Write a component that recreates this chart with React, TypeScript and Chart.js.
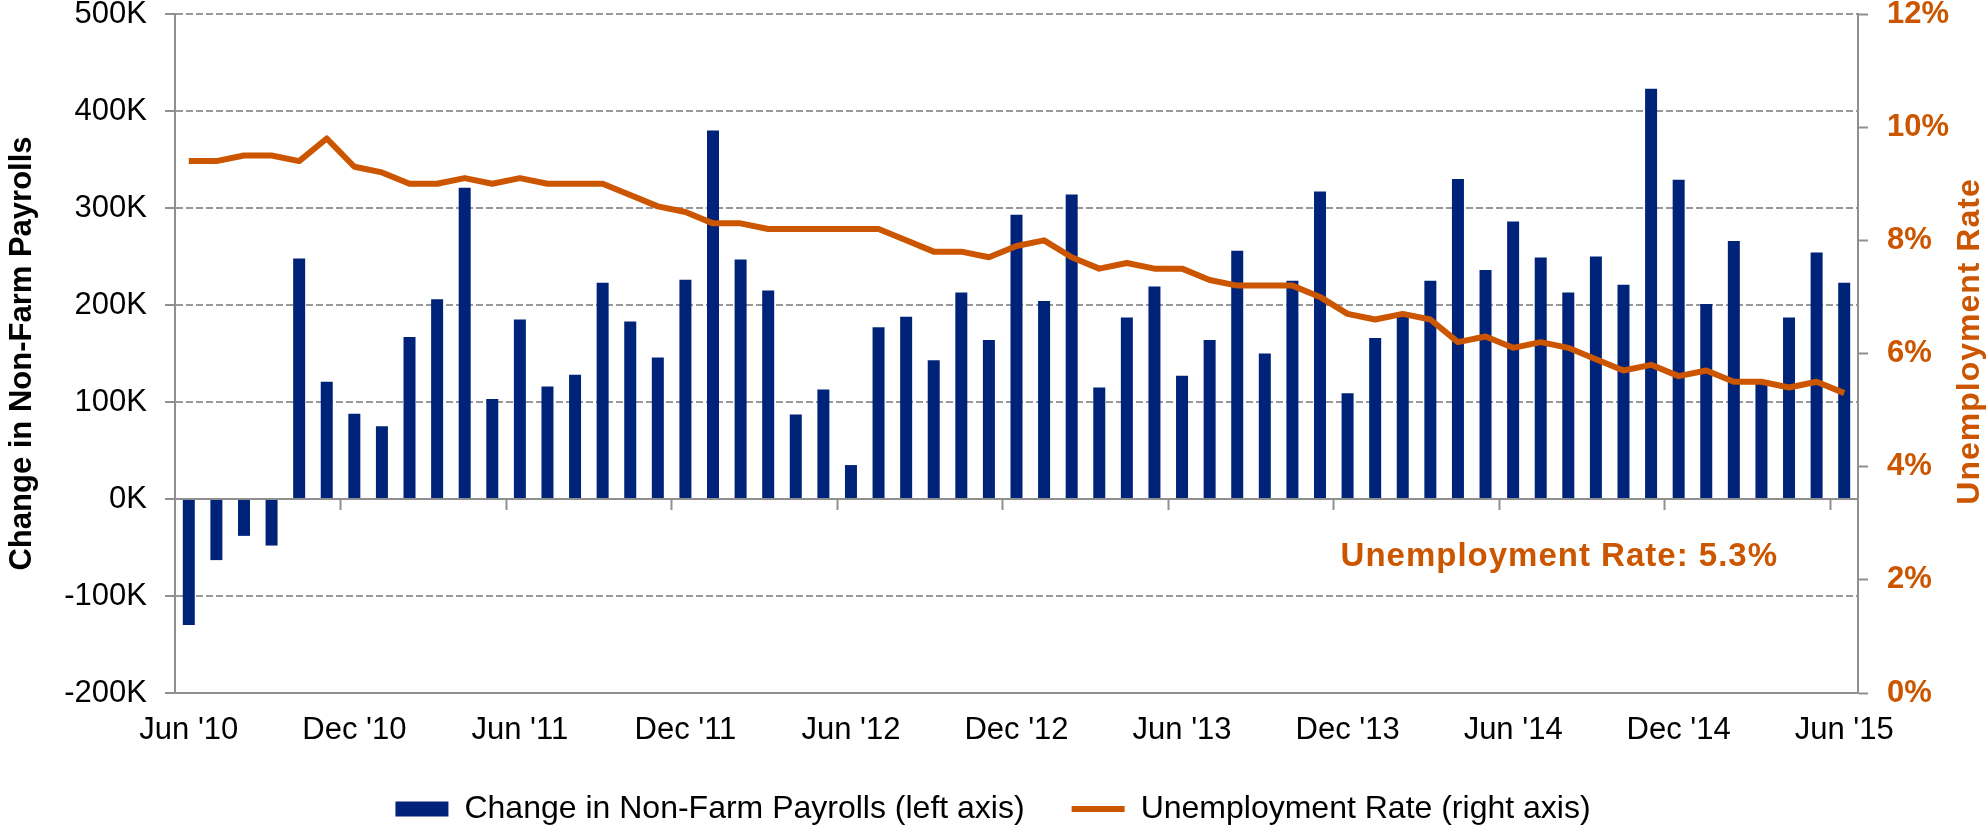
import React, { useEffect, useRef } from 'react';
import { Chart, registerables } from 'chart.js';

Chart.register(...registerables);

// ---- Data ----
const months = [
  "Jun '10", "Jul '10", "Aug '10", "Sep '10", "Oct '10", "Nov '10", "Dec '10",
  "Jan '11", "Feb '11", "Mar '11", "Apr '11", "May '11", "Jun '11", "Jul '11", "Aug '11", "Sep '11", "Oct '11", "Nov '11", "Dec '11",
  "Jan '12", "Feb '12", "Mar '12", "Apr '12", "May '12", "Jun '12", "Jul '12", "Aug '12", "Sep '12", "Oct '12", "Nov '12", "Dec '12",
  "Jan '13", "Feb '13", "Mar '13", "Apr '13", "May '13", "Jun '13", "Jul '13", "Aug '13", "Sep '13", "Oct '13", "Nov '13", "Dec '13",
  "Jan '14", "Feb '14", "Mar '14", "Apr '14", "May '14", "Jun '14", "Jul '14", "Aug '14", "Sep '14", "Oct '14", "Nov '14", "Dec '14",
  "Jan '15", "Feb '15", "Mar '15", "Apr '15", "May '15", "Jun '15",
];

// Change in non-farm payrolls, thousands
const payrolls = [
  -130, -63, -38, -48, 248, 121, 88, 75, 167, 206,
  321, 103, 185, 116, 128, 223, 183, 146, 226, 380,
  247, 215, 87, 113, 35, 177, 188, 143, 213, 164,
  293, 204, 314, 115, 187, 219, 127, 164, 256, 150,
  225, 317, 109, 166, 188, 225, 330, 236, 286, 249,
  213, 250, 221, 423, 329, 201, 266, 119, 187, 254,
  223,
];

// Unemployment rate, percent
const rates = [
  9.4, 9.4, 9.5, 9.5, 9.4, 9.8, 9.3, 9.2, 9.0, 9.0,
  9.1, 9.0, 9.1, 9.0, 9.0, 9.0, 8.8, 8.6, 8.5, 8.3,
  8.3, 8.2, 8.2, 8.2, 8.2, 8.2, 8.0, 7.8, 7.8, 7.7,
  7.9, 8.0, 7.7, 7.5, 7.6, 7.5, 7.5, 7.3, 7.2, 7.2,
  7.2, 7.0, 6.7, 6.6, 6.7, 6.6, 6.2, 6.3, 6.1, 6.2,
  6.1, 5.9, 5.7, 5.8, 5.6, 5.7, 5.5, 5.5, 5.4, 5.5,
  5.3,
];

const barLabel = 'Change in Non-Farm Payrolls (left axis)';
const lineLabel = 'Unemployment Rate (right axis)';
const leftTitle = 'Change in Non-Farm Payrolls';
const rightTitle = 'Unemployment Rate';
const rateNote = `Unemployment Rate: ${rates[rates.length - 1]}%`;
const noteValue = -60; // left-axis value where the note sits
const labelEvery = 6;

const NAVY = '#00237A';
const ORANGE = '#CC5500';
const GRID = '#999999';
const AXIS = '#8F8F8F';
const FONT = '"Liberation Sans", Arial, Helvetica, sans-serif';

export default function App() {
  const ref = useRef<HTMLCanvasElement>(null);

  useEffect(() => {
    document.body.style.margin = '0';
    const canvas = ref.current;
    if (!canvas) return;
    Chart.defaults.font.family = FONT;

    const extras = {
      id: 'extras',
      afterDraw(chart: any) {
        const { ctx, chartArea, scales } = chart;
        ctx.save();
        ctx.fillStyle = ORANGE;
        ctx.font = `bold 33px ${FONT}`;
        (ctx as any).letterSpacing = '1px';
        ctx.textAlign = 'right';
        ctx.textBaseline = 'middle';
        ctx.fillText(rateNote, chartArea.right - 80, scales.y.getPixelForValue(noteValue));
        ctx.restore();

        ctx.save();
        ctx.fillStyle = ORANGE;
        ctx.font = `bold 32px ${FONT}`;
        (ctx as any).letterSpacing = '1px';
        ctx.translate(scales.y1.right - 16, (chartArea.top + chartArea.bottom) / 2 - 12);
        ctx.rotate(-Math.PI / 2);
        ctx.textAlign = 'center';
        ctx.textBaseline = 'middle';
        ctx.fillText(rightTitle, 0, 0);
        ctx.restore();
      },
    };

    const chart = new Chart(canvas, {
      type: 'bar',
      data: {
        labels: months,
        datasets: [
          {
            type: 'bar',
            label: barLabel,
            data: payrolls,
            backgroundColor: NAVY,
            yAxisID: 'y',
            xAxisID: 'x',
            barPercentage: 0.435,
            categoryPercentage: 1,
            order: 1,
          } as any,
          {
            type: 'line',
            label: lineLabel,
            data: rates,
            borderColor: ORANGE,
            backgroundColor: ORANGE,
            borderWidth: 6,
            pointRadius: 0,
            tension: 0,
            borderJoinStyle: 'round',
            yAxisID: 'y1',
            xAxisID: 'x',
            order: 0,
          } as any,
        ],
      },
      options: {
        responsive: false,
        animation: false,
        layout: { padding: { top: 14, left: 0, right: 0, bottom: -7 } },
        plugins: {
          tooltip: { enabled: false },
          legend: {
            position: 'bottom',
            labels: {
              usePointStyle: true,
              pointStyleWidth: 53,
              boxHeight: 15,
              padding: 47,
              color: '#000',
              font: { size: 32 },
              generateLabels: (c: any) =>
                c.data.datasets.map((ds: any, i: number) => ({
                  text: ds.label,
                  datasetIndex: i,
                  pointStyle: i === 0 ? 'rect' : 'line',
                  fillStyle: i === 0 ? NAVY : ORANGE,
                  strokeStyle: i === 0 ? NAVY : ORANGE,
                  lineWidth: i === 0 ? 0 : 6,
                  lineCap: 'butt',
                  hidden: false,
                  fontColor: '#000',
                })),
            },
          },
        },
        scales: {
          x: {
            type: 'category',
            position: { y: 0 } as any,
            offset: true,
            ticks: { display: false, autoSkip: false },
            grid: {
              offset: true,
              drawOnChartArea: false,
              drawTicks: true,
              tickLength: 10,
              tickWidth: 2,
              tickBorderDash: [],
              tickColor: (c: any) =>
                c.index > 0 && c.index % labelEvery === 0 ? AXIS : 'rgba(0,0,0,0)',
            },
            border: { display: true, color: AXIS, width: 2 },
            afterFit: (s: any) => {
              s.paddingLeft = 0;
              s.paddingRight = 0;
            },
          },
          xb: {
            type: 'category',
            position: 'bottom',
            offset: true,
            grid: { display: false, drawTicks: false },
            border: { display: true, color: AXIS, width: 2 },
            ticks: {
              autoSkip: false,
              maxRotation: 0,
              minRotation: 0,
              padding: 19,
              color: '#000',
              font: { size: 31 },
              callback: function (this: any, value: any, index: number) {
                return index % labelEvery === 0 ? this.getLabelForValue(value) : '';
              },
            },
            afterFit: (s: any) => {
              s.height = 53;
              s.paddingLeft = 0;
              s.paddingRight = 0;
            },
          },
          y: {
            type: 'linear',
            position: 'left',
            min: -200,
            max: 500,
            ticks: {
              stepSize: 100,
              padding: 18,
              color: '#000',
              font: { size: 31 },
              callback: (v: any) => `${v}K`,
            },
            grid: {
              color: GRID,
              lineWidth: 2,
              drawTicks: true,
              tickLength: 10,
              tickColor: AXIS,
              tickWidth: 2,
              tickBorderDash: [],
            },
            border: { display: true, color: AXIS, width: 2, dash: [7, 3] },
            title: {
              display: true,
              text: leftTitle,
              color: '#000',
              font: { size: 31, weight: 'bold' },
              padding: { top: 4, bottom: 0 },
            },
            afterFit: (s: any) => {
              s.width = 175;
              s.paddingTop = 0;
              s.paddingBottom = 0;
            },
          },
          y1: {
            type: 'linear',
            position: 'right',
            min: 0,
            max: 12,
            ticks: {
              stepSize: 2,
              padding: 19,
              color: ORANGE,
              font: { size: 31, weight: 'bold' },
              callback: (v: any) => `${v}%`,
            },
            grid: {
              drawOnChartArea: false,
              drawTicks: true,
              tickLength: 10,
              tickColor: AXIS,
              tickWidth: 2,
              tickBorderDash: [],
            },
            border: { display: true, color: AXIS, width: 2 },
            afterFit: (s: any) => {
              s.width = 128;
              s.paddingTop = 0;
              s.paddingBottom = 0;
            },
          },
        },
      } as any,
      plugins: [extras],
    });

    return () => chart.destroy();
  }, []);

  return (
    <canvas
      ref={ref}
      width={1986}
      height={828}
      style={{ display: 'block', width: '1986px', height: '828px' }}
    />
  );
}
